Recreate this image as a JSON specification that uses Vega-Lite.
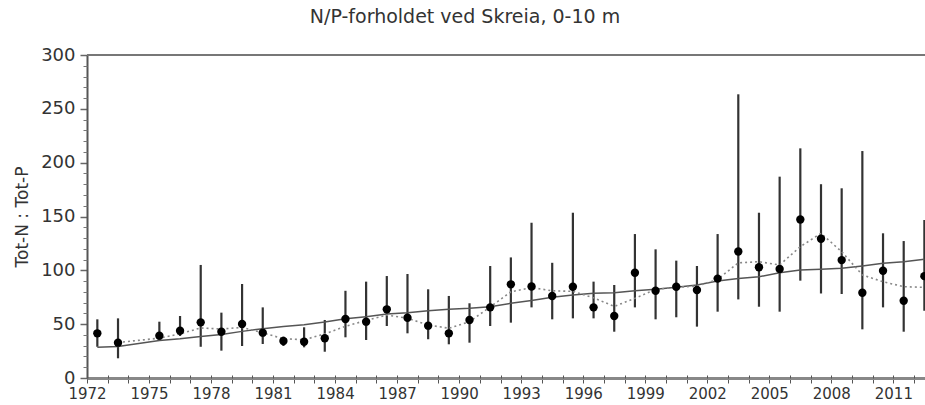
{
  "$schema": "https://vega.github.io/schema/vega-lite/v6.json",
  "width": 838,
  "height": 323,
  "autosize": {"type": "none"},
  "padding": {"left": 87, "top": 55, "right": 0, "bottom": 27},
  "background": "white",
  "title": {"text": "N/P-forholdet ved Skreia, 0-10 m", "font": "DejaVu Sans", "fontSize": 19, "fontWeight": "normal", "color": "#333", "dx": -41, "offset": 19},
  "config": {"view": {"stroke": null}},
  "data": {"values": [
    {"year": 1972, "value": 41.5, "lo": 29, "hi": 54.5, "trend": 28.6, "smooth": null},
    {"year": 1973, "value": 32.8, "lo": 18.3, "hi": 55.4, "trend": 29.3, "smooth": 33},
    {"year": 1975, "value": 39.3, "lo": 34.7, "hi": 52.3, "trend": 34.9, "smooth": 37},
    {"year": 1976, "value": 43.9, "lo": 39, "hi": 57.6, "trend": 36.5, "smooth": 41},
    {"year": 1977, "value": 51.7, "lo": 29, "hi": 105, "trend": 38.6, "smooth": 46.5},
    {"year": 1978, "value": 43, "lo": 25.4, "hi": 60.7, "trend": 40.5, "smooth": 45.5},
    {"year": 1979, "value": 50.2, "lo": 29.7, "hi": 87.3, "trend": 43.3, "smooth": 47},
    {"year": 1980, "value": 42.1, "lo": 31.6, "hi": 65.6, "trend": 45.8, "smooth": 42},
    {"year": 1981, "value": 34.4, "lo": 29.7, "hi": 38.4, "trend": 47.9, "smooth": 36.5},
    {"year": 1982, "value": 33.7, "lo": 28.5, "hi": 47.1, "trend": 49.5, "smooth": 35.5},
    {"year": 1983, "value": 36.9, "lo": 24.4, "hi": 53.9, "trend": 52, "smooth": 41},
    {"year": 1984, "value": 54.8, "lo": 37.8, "hi": 81, "trend": 55, "smooth": 48},
    {"year": 1985, "value": 52.3, "lo": 35.3, "hi": 89.5, "trend": 57, "smooth": 53.5},
    {"year": 1986, "value": 63.8, "lo": 48.3, "hi": 94.7, "trend": 59.4, "smooth": 58.5},
    {"year": 1987, "value": 56, "lo": 41.5, "hi": 96.6, "trend": 60.7, "smooth": 55.5},
    {"year": 1988, "value": 48.6, "lo": 36, "hi": 82.4, "trend": 62.5, "smooth": 49.2},
    {"year": 1989, "value": 41.5, "lo": 31.3, "hi": 76.2, "trend": 63.8, "smooth": 46.2},
    {"year": 1990, "value": 53.9, "lo": 32.8, "hi": 69.4, "trend": 64.7, "smooth": 52.3},
    {"year": 1991, "value": 65.6, "lo": 48.3, "hi": 104, "trend": 66.2, "smooth": 66},
    {"year": 1992, "value": 87, "lo": 51.4, "hi": 112, "trend": 69.4, "smooth": 80},
    {"year": 1993, "value": 85, "lo": 65.6, "hi": 144.2, "trend": 72, "smooth": 84},
    {"year": 1994, "value": 76.2, "lo": 54.5, "hi": 107, "trend": 75, "smooth": 81},
    {"year": 1995, "value": 84.8, "lo": 55.4, "hi": 153.5, "trend": 77, "smooth": 80.5},
    {"year": 1996, "value": 65.6, "lo": 55.4, "hi": 89.5, "trend": 78.7, "smooth": 74.5},
    {"year": 1997, "value": 57.6, "lo": 43, "hi": 86.4, "trend": 79.2, "smooth": 66.5},
    {"year": 1998, "value": 97.8, "lo": 65.6, "hi": 133.7, "trend": 81, "smooth": 74},
    {"year": 1999, "value": 81, "lo": 54.5, "hi": 119.5, "trend": 82.4, "smooth": 82.4},
    {"year": 2000, "value": 84.8, "lo": 56.4, "hi": 109, "trend": 84.2, "smooth": 84.2},
    {"year": 2001, "value": 81.7, "lo": 47.7, "hi": 104, "trend": 86.4, "smooth": 85.4},
    {"year": 2002, "value": 92.3, "lo": 61.6, "hi": 133.7, "trend": 90, "smooth": 91.5},
    {"year": 2003, "value": 117.5, "lo": 73, "hi": 263.5, "trend": 92.5, "smooth": 107},
    {"year": 2004, "value": 102.9, "lo": 66.2, "hi": 153.5, "trend": 94, "smooth": 108},
    {"year": 2005, "value": 101.2, "lo": 61.6, "hi": 187, "trend": 97.8, "smooth": 105},
    {"year": 2006, "value": 147.2, "lo": 90.4, "hi": 213.3, "trend": 100.3, "smooth": 122},
    {"year": 2007, "value": 129.3, "lo": 78.5, "hi": 180, "trend": 101, "smooth": 134.4},
    {"year": 2008, "value": 109.5, "lo": 78, "hi": 176.2, "trend": 101.9, "smooth": 117.3},
    {"year": 2009, "value": 79.2, "lo": 45.2, "hi": 210.8, "trend": 104, "smooth": 95.7},
    {"year": 2010, "value": 99.6, "lo": 65.6, "hi": 134.4, "trend": 106.5, "smooth": 89.4},
    {"year": 2011, "value": 71.7, "lo": 43, "hi": 127.2, "trend": 108, "smooth": 84.8},
    {"year": 2012, "value": 94.6, "lo": 62.5, "hi": 146.7, "trend": 110.2, "smooth": 84.2}
  ]},
  "layer": [
    {
      "mark": {"type": "rule", "color": "#777", "strokeWidth": 2},
      "encoding": {
        "y": {"datum": 300, "type": "quantitative", "scale": {"domain": [0, 300], "nice": false}, "axis": null}
      }
    },
    {
      "mark": {"type": "rule", "color": "#333", "strokeWidth": 2.2},
      "encoding": {
        "x": {"field": "year", "type": "quantitative",
              "scale": {"domain": [1971.5, 2012.03], "nice": false, "zero": false},
              "axis": {"values": [1972,1973,1974,1975,1976,1977,1978,1979,1980,1981,1982,1983,1984,1985,1986,1987,1988,1989,1990,1991,1992,1993,1994,1995,1996,1997,1998,1999,2000,2001,2002,2003,2004,2005,2006,2007,2008,2009,2010,2011,2012],
                       "format": "d", "labelExpr": "(datum.value - 1972) % 3 == 0 ? datum.label : ''",
                       "labelOverlap": false, "labelFlush": false, "tickOffset": -10.34,
                       "tickSize": 5, "tickColor": "#555", "tickWidth": 1,
                       "domainColor": "#888", "domainWidth": 3, "grid": false, "title": null,
                       "labelFont": "DejaVu Sans", "labelFontSize": 15, "labelColor": "#333", "labelPadding": 3}},
        "y": {"field": "lo", "type": "quantitative",
              "scale": {"domain": [0, 300], "nice": false},
              "axis": {"values": [0, 50, 100, 150, 200, 250, 300], "tickSize": 7, "tickColor": "#666", "tickWidth": 1.5,
                       "domainColor": "#555", "domainWidth": 2, "grid": false,
                       "labelFont": "DejaVu Sans", "labelFontSize": 18, "labelColor": "#333", "labelPadding": 5,
                       "title": "Tot-N : Tot-P", "titleFont": "DejaVu Sans", "titleFontSize": 17, "titleFontWeight": "normal", "titleColor": "#333", "titlePadding": 9}},
        "y2": {"field": "hi"}
      }
    },
    {
      "mark": {"type": "line", "color": "#555", "strokeWidth": 1.5},
      "encoding": {
        "x": {"field": "year", "type": "quantitative", "axis": null},
        "y": {"field": "trend", "type": "quantitative", "axis": null}
      }
    },
    {
      "transform": [{"filter": "datum.smooth != null"}],
      "mark": {"type": "line", "color": "#888", "strokeWidth": 1.6, "strokeDash": [2, 3]},
      "encoding": {
        "x": {"field": "year", "type": "quantitative", "axis": null},
        "y": {"field": "smooth", "type": "quantitative", "axis": null}
      }
    },
    {
      "mark": {"type": "point", "shape": "circle", "filled": true, "color": "#000", "size": 70, "opacity": 1},
      "encoding": {
        "x": {"field": "year", "type": "quantitative",
              "axis": {"orient": "bottom", "values": [1972,1973,1974,1975,1976,1977,1978,1979,1980,1981,1982,1983,1984,1985,1986,1987,1988,1989,1990,1991,1992,1993,1994,1995,1996,1997,1998,1999,2000,2001,2002,2003,2004,2005,2006,2007,2008,2009,2010,2011,2012],
                       "labels": false, "domain": false, "grid": false, "title": null, "tickOffset": -10.34, "tickSize": -3, "tickColor": "#555", "tickWidth": 1}},
        "y": {"field": "value", "type": "quantitative",
              "axis": {"orient": "left", "values": [10,20,30,40,60,70,80,90,110,120,130,140,160,170,180,190,210,220,230,240,260,270,280,290],
                       "labels": false, "domain": false, "grid": false, "title": null, "tickSize": 4, "tickColor": "#777", "tickWidth": 1}}
      }
    }
  ],
  "resolve": {"axis": {"x": "independent", "y": "independent"}}
}
